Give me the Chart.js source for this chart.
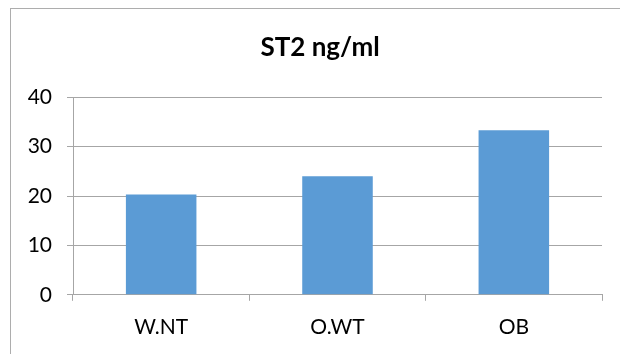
<!DOCTYPE html>
<html>
<head>
<meta charset="utf-8">
<script src="https://cdn.jsdelivr.net/npm/chart.js@4"></script>
<style>
html,body{margin:0;padding:0;background:#fff;}
#wrap{width:620px;height:354px;position:relative;}
</style>
</head>
<body>
<div id="wrap"><canvas id="c" width="620" height="354"></canvas></div>
<script>
const categories = ['W.NT', 'O.WT', 'OB'];
const st2Values = [20.3, 24.0, 33.3];
const yTicks = [0, 10, 20, 30, 40];
const chartTitle = 'ST2 ng/ml';

const FONT = "Lato, 'Open Sans', 'Liberation Sans', sans-serif";
const GRID = '#A6A6A6';

const framePlugin = {
  id: 'frame',
  afterLayout(chart) {
    // centre the title on the framed chart box rather than the canvas
    if (chart.titleBlock) {
      chart.titleBlock.left = 38;
      chart.titleBlock.right = 602;
      chart.titleBlock.width = 564;
    }
  },
  beforeDraw(chart) {
    const ctx = chart.ctx;
    ctx.save();
    ctx.fillStyle = '#ffffff';
    ctx.fillRect(0, 0, chart.width, chart.height);
    ctx.strokeStyle = '#ADADAD';
    ctx.lineWidth = 1;
    ctx.strokeRect(10.5, 8.5, chart.width + 20, chart.height + 20);
    ctx.restore();
  }
};

new Chart(document.getElementById('c'), {
  type: 'bar',
  data: {
    labels: categories,
    datasets: [{
      data: st2Values,
      backgroundColor: '#5B9BD5',
      borderWidth: 0,
      barPercentage: 0.4,
      categoryPercentage: 1.0
    }]
  },
  options: {
    responsive: false,
    animation: false,
    devicePixelRatio: 1,
    layout: { padding: { left: 0, right: 18, top: 10, bottom: 0 } },
    plugins: {
      legend: { display: false },
      tooltip: { enabled: false },
      title: {
        display: true,
        text: chartTitle,
        color: '#000',
        font: { family: FONT, size: 26, weight: 'bold', lineHeight: 1.2 },
        padding: { top: 22, bottom: 34 }
      }
    },
    scales: {
      x: {
        grid: {
          display: true,
          drawOnChartArea: false,
          drawTicks: true,
          tickLength: 6,
          color: GRID,
          offset: true
        },
        border: { display: true, color: GRID, width: 1 },
        ticks: {
          color: '#000',
          padding: 14,
          font: { family: FONT, size: 21, lineHeight: 1.2 },
          maxRotation: 0
        }
      },
      y: {
        min: 0,
        max: 40,
        afterBuildTicks(scale) {
          scale.ticks = yTicks.map(v => ({ value: v }));
        },
        afterFit(scale) { scale.width = 73; },
        grid: {
          color: GRID,
          drawTicks: true,
          tickLength: 6,
          lineWidth: 1
        },
        border: { display: true, color: GRID, width: 1 },
        ticks: {
          color: '#000',
          padding: 15,
          font: { family: FONT, size: 21, lineHeight: 1.2 }
        }
      }
    }
  },
  plugins: [framePlugin]
});
</script>
</body>
</html>
